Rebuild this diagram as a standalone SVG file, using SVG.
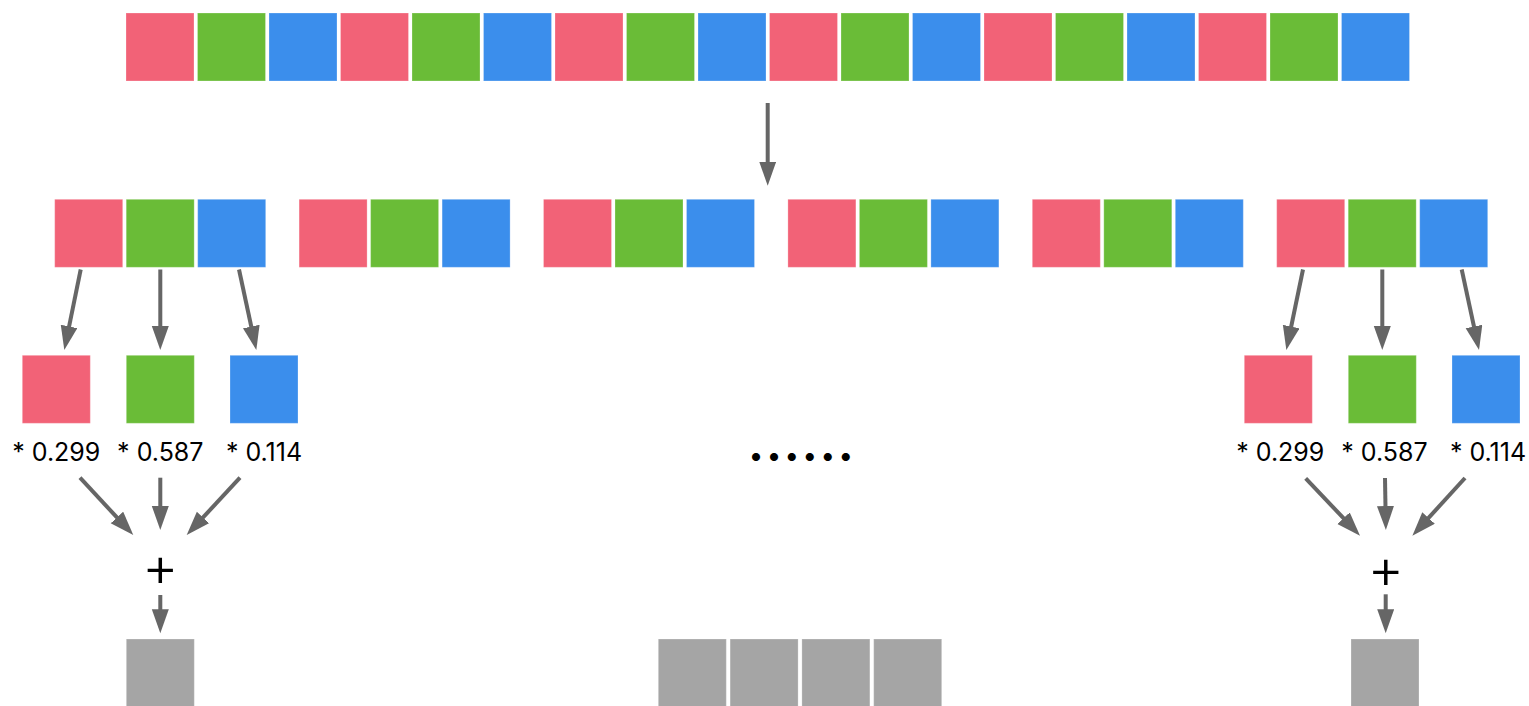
<svg xmlns="http://www.w3.org/2000/svg" width="1529" height="706" viewBox="0 0 1529 706">
<style>
.r{fill:#F26277}.g{fill:#6ABC37}.b{fill:#3B8EEC}.k{fill:#A5A5A5}
rect{stroke:#ffffff;stroke-opacity:0.25;stroke-width:1}
.c line{stroke:#666666;stroke-width:4;marker-end:url(#ah)}
text{font-family:Inter,"Liberation Sans",sans-serif;fill:#000}
.lbl{font-size:25px;text-anchor:middle}
.plus{font-size:56px;font-weight:300;text-anchor:middle}
</style>
<defs>
<marker id="ah" markerUnits="userSpaceOnUse" markerWidth="26" markerHeight="18" refX="2" refY="8.5" orient="auto">
<path d="M0,0 L24,8.5 L0,17 z" fill="#666666"/>
</marker>
</defs>
<rect width="1529" height="706" fill="#ffffff" stroke="none"/>
<g id="top-row">
<rect class="r" x="126" y="13" width="68" height="68"/>
<rect class="g" x="197.5" y="13" width="68" height="68"/>
<rect class="b" x="269" y="13" width="68" height="68"/>
<rect class="r" x="340.5" y="13" width="68" height="68"/>
<rect class="g" x="412" y="13" width="68" height="68"/>
<rect class="b" x="483.5" y="13" width="68" height="68"/>
<rect class="r" x="555" y="13" width="68" height="68"/>
<rect class="g" x="626.5" y="13" width="68" height="68"/>
<rect class="b" x="698" y="13" width="68" height="68"/>
<rect class="r" x="769.5" y="13" width="68" height="68"/>
<rect class="g" x="841" y="13" width="68" height="68"/>
<rect class="b" x="912.5" y="13" width="68" height="68"/>
<rect class="r" x="984" y="13" width="68" height="68"/>
<rect class="g" x="1055.5" y="13" width="68" height="68"/>
<rect class="b" x="1127" y="13" width="68" height="68"/>
<rect class="r" x="1198.5" y="13" width="68" height="68"/>
<rect class="g" x="1270" y="13" width="68" height="68"/>
<rect class="b" x="1341.5" y="13" width="68" height="68"/>
</g>
<g id="pixel-1"><rect class="r" x="54.7" y="199.3" width="68" height="68"/><rect class="g" x="126.2" y="199.3" width="68" height="68"/><rect class="b" x="197.7" y="199.3" width="68" height="68"/></g>
<g id="pixel-2"><rect class="r" x="299.1" y="199.3" width="68" height="68"/><rect class="g" x="370.6" y="199.3" width="68" height="68"/><rect class="b" x="442.1" y="199.3" width="68" height="68"/></g>
<g id="pixel-3"><rect class="r" x="543.5" y="199.3" width="68" height="68"/><rect class="g" x="615" y="199.3" width="68" height="68"/><rect class="b" x="686.5" y="199.3" width="68" height="68"/></g>
<g id="pixel-4"><rect class="r" x="787.9" y="199.3" width="68" height="68"/><rect class="g" x="859.4" y="199.3" width="68" height="68"/><rect class="b" x="930.9" y="199.3" width="68" height="68"/></g>
<g id="pixel-5"><rect class="r" x="1032.3" y="199.3" width="68" height="68"/><rect class="g" x="1103.8" y="199.3" width="68" height="68"/><rect class="b" x="1175.3" y="199.3" width="68" height="68"/></g>
<g id="pixel-6"><rect class="r" x="1276.7" y="199.3" width="68" height="68"/><rect class="g" x="1348.2" y="199.3" width="68" height="68"/><rect class="b" x="1419.7" y="199.3" width="68" height="68"/></g>
<g id="left-r"><rect class="r" x="22.3" y="355.3" width="68" height="68"/><text class="lbl" x="56.3" y="460.7">* 0.299</text></g>
<g id="left-g"><rect class="g" x="126.3" y="355.3" width="68" height="68"/><text class="lbl" x="160.3" y="460.7">* 0.587</text></g>
<g id="left-b"><rect class="b" x="230" y="355.3" width="68" height="68"/><text class="lbl" x="264" y="460.7">* 0.114</text></g>
<g id="left-plus"><text class="plus" x="160.3" y="586">+</text></g>
<g id="left-gray"><rect class="k" x="126.3" y="639" width="68" height="68"/></g>
<g id="right-r"><rect class="r" x="1244.3" y="355.3" width="68" height="68"/><text class="lbl" x="1280.3" y="460.7">* 0.299</text></g>
<g id="right-g"><rect class="g" x="1348.3" y="355.3" width="68" height="68"/><text class="lbl" x="1384.5" y="460.7">* 0.587</text></g>
<g id="right-b"><rect class="b" x="1452" y="355.3" width="68" height="68"/><text class="lbl" x="1488" y="460.7">* 0.114</text></g>
<g id="right-plus"><text class="plus" x="1385.7" y="588">+</text></g>
<g id="right-gray"><rect class="k" x="1351" y="639" width="68" height="68"/></g>
<g id="ellipsis"><text x="748" y="460.5" style="font-size:48px;font-weight:bold;letter-spacing:1.9px">......</text></g>
<g id="mid-gray">
<rect class="k" x="658.3" y="639" width="68" height="68"/>
<rect class="k" x="730.1" y="639" width="68" height="68"/>
<rect class="k" x="801.9" y="639" width="68" height="68"/>
<rect class="k" x="873.7" y="639" width="68" height="68"/>
</g>
<g id="connectors" class="c">
<line x1="767.7" y1="103" x2="767.7" y2="163.7"/>
<line x1="80.7" y1="269.5" x2="68.7" y2="328.4"/>
<line x1="160.3" y1="269.5" x2="160.3" y2="328"/>
<line x1="239" y1="269.5" x2="251.7" y2="328.5"/>
<line x1="1303" y1="269.5" x2="1290.8" y2="328.5"/>
<line x1="1382.3" y1="269.5" x2="1382.3" y2="328"/>
<line x1="1461.7" y1="269.5" x2="1474.4" y2="328.5"/>
<line x1="80" y1="477.7" x2="118.3" y2="518.9"/>
<line x1="160.3" y1="477.7" x2="160.3" y2="508"/>
<line x1="240" y1="477.7" x2="201.7" y2="518.9"/>
<line x1="160.3" y1="595" x2="160.3" y2="611.3"/>
<line x1="1305.7" y1="478.3" x2="1344.9" y2="519.7"/>
<line x1="1385" y1="478" x2="1385.5" y2="508"/>
<line x1="1465" y1="478" x2="1427.2" y2="519.4"/>
<line x1="1385.7" y1="594.3" x2="1385.7" y2="611.3"/>
</g>
</svg>
